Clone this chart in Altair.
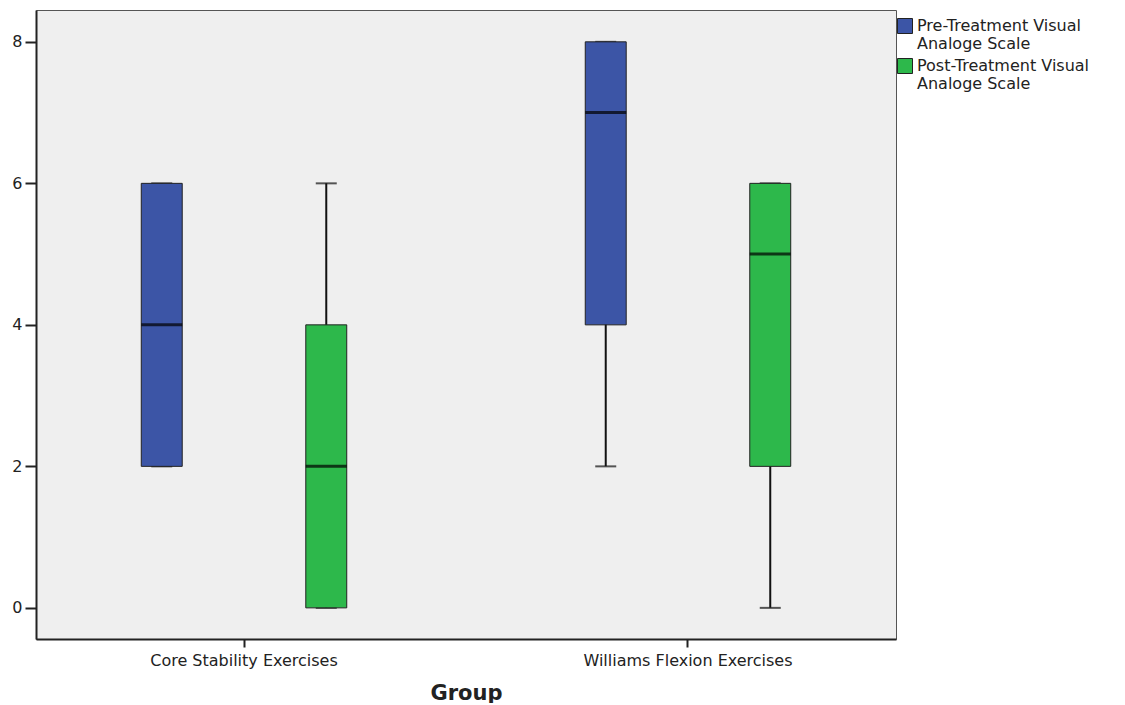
import altair as alt
import pandas as pd

groups = ["Core Stability Exercises", "Core Stability Exercises",
          "Williams Flexion Exercises", "Williams Flexion Exercises"]
series = ["Pre-Treatment Visual Analoge Scale", "Post-Treatment Visual Analoge Scale",
          "Pre-Treatment Visual Analoge Scale", "Post-Treatment Visual Analoge Scale"]
mins = [2, 0, 2, 0]
q1s = [2, 0, 4, 2]
medians = [4, 2, 7, 5]
q3s = [6, 4, 8, 6]
maxs = [6, 6, 8, 6]

series_order = ["Pre-Treatment Visual Analoge Scale", "Post-Treatment Visual Analoge Scale"]
colors = ["#3C55A6", "#2DB84B"]

df = pd.DataFrame({"Group": groups, "Series": series, "min": mins, "q1": q1s,
                   "median": medians, "q3": q3s, "max": maxs})

FONT = "DejaVu Sans"

x = alt.X("Group:N", title="Group",
          scale=alt.Scale(paddingInner=0.2, paddingOuter=0.0685),
          axis=alt.Axis(labelAngle=0, tickSize=8, tickColor="#222", tickWidth=2,
                        labelPadding=5, labelFontSize=16, labelColor="#222",
                        labelLimit=400,
                        titleFontSize=21, titleFontWeight="bold", titleColor="#222",
                        titlePadding=14, domainColor="#222", domainWidth=2,
                        labelFont=FONT, titleFont=FONT))
xo = alt.XOffset("Series:N", sort=series_order,
                 scale=alt.Scale(domain=series_order, paddingInner=0.751, paddingOuter=0.455))
ysc = alt.Scale(domain=[-0.44, 8.45], nice=False, zero=False)
yax = alt.Axis(values=[0, 2, 4, 6, 8], tickSize=11, tickColor="#222", tickWidth=2,
               labelPadding=3, labelFontSize=16, labelColor="#222", grid=False,
               domainColor="#222", domainWidth=2, labelFont=FONT, title=None)

color = alt.Color("Series:N", scale=alt.Scale(domain=series_order, range=colors),
                  legend=alt.Legend(title=None, orient="none", legendX=861, legendY=8,
                                    symbolType="square", symbolSize=225,
                                    symbolStrokeColor="#222", symbolStrokeWidth=1,
                                    symbolOpacity=1, labelFontSize=16, labelFont=FONT,
                                    labelColor="#222", rowPadding=4, labelOffset=4,
                                    labelLimit=300,
                                    labelExpr="[replace(datum.label, ' Analoge Scale', ''), 'Analoge Scale']"))

base = alt.Chart(df).encode(x=x, xOffset=xo)

whisk = base.mark_rule(color="#111", strokeWidth=2).encode(
    y=alt.Y("min:Q", scale=ysc, axis=yax), y2="max:Q")
box = base.mark_bar(stroke="#222", strokeWidth=1, opacity=1).encode(
    y=alt.Y("q1:Q", scale=ysc, axis=yax), y2="q3:Q", color=color)
caps_lo = base.mark_tick(color="#111", size=21, thickness=2, orient="horizontal").encode(
    y=alt.Y("min:Q", scale=ysc, axis=yax))
caps_hi = base.mark_tick(color="#111", size=21, thickness=2, orient="horizontal").encode(
    y=alt.Y("max:Q", scale=ysc, axis=yax))
med = base.mark_tick(color="#000", size=41, thickness=3, orient="horizontal").encode(
    y=alt.Y("median:Q", scale=ysc, axis=yax))

chart = alt.layer(whisk, caps_lo, caps_hi, box, med).properties(
    width=860, height=629,
    autosize=alt.AutoSizeParams(type="none"),
    padding={"left": 28, "top": 2, "right": 220, "bottom": 64},
    background="white",
).configure_view(fill="#EFEFEF", stroke="#555", strokeWidth=1)

chart.save("out.html", embed_options={"renderer": "svg", "actions": False})
